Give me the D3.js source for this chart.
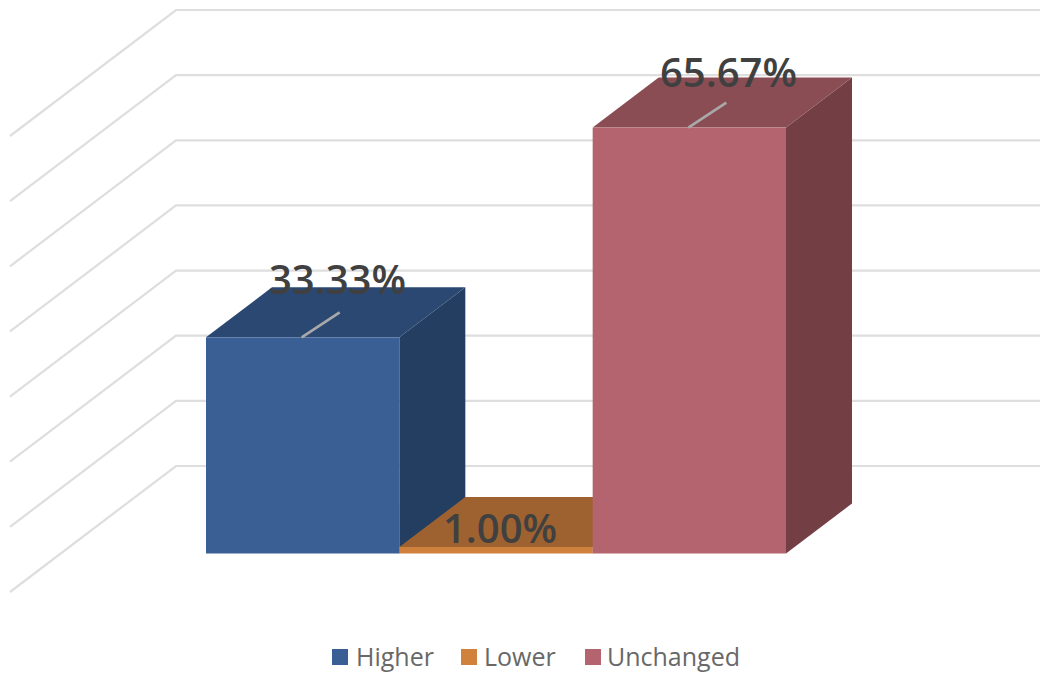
<!DOCTYPE html>
<html>
<head>
<meta charset="utf-8">
<script src="https://cdn.jsdelivr.net/npm/d3@7/dist/d3.min.js"></script>
<style>
html,body{margin:0;padding:0;background:#fff;}
svg{display:block;}
</style>
</head>
<body>
<svg id="chart" width="1040" height="673"></svg>
<script>
const categories = ["Higher", "Lower", "Unchanged"];
const values = [33.33, 1.00, 65.67];
const valueLabels = ["33.33%", "1.00%", "65.67%"];
const gridValues = [0, 10, 20, 30, 40, 50, 60, 70];
const frontColors = ["#3A5F95", "#D0823D", "#B4646E"];
const topColors = ["#2B4872", "#9E6230", "#8A4D54"];
const sideColors = ["#233E60", "#9E6230", "#733F45"];

const svg = d3.select("#chart");

// Value-to-height scale on the front plane of the bars
const y = d3.scaleLinear().domain([0, 70]).range([553.5, 99.5]);
const x = d3.scaleBand().domain(categories).range([206, 786]).padding(0);

// Oblique projection offsets
const barDepth = { dx: 66, dy: -50 };
const floorDepth = { dx: 166, dy: -126 };
const wallBackBaseY = 466;
const wallLeft = 176, wallRight = 1040, floorFrontX = 10;
const wallY = d3.scaleLinear().domain([0, 70]).range([wallBackBaseY, 10]);

// Gridlines: along the back wall, then down the side wall
const line = d3.line();
svg.append("g").selectAll("path").data(gridValues).join("path")
  .attr("d", v => line([
    [floorFrontX, wallY(v) - floorDepth.dy],
    [wallLeft, wallY(v)],
    [wallRight, wallY(v)]
  ]))
  .attr("fill", "none")
  .attr("stroke", "#DEDEDE")
  .attr("stroke-width", 2.2);

const bars = categories.map((c, i) => ({
  c, i, v: values[i], x0: x(c), x1: x(c) + x.bandwidth(), top: y(values[i]), base: y(0)
}));

const g = svg.append("g");
bars.forEach(b => {
  const { dx, dy } = barDepth;
  // side face
  g.append("path")
    .attr("d", line([[b.x1, b.top], [b.x1 + dx, b.top + dy], [b.x1 + dx, b.base + dy], [b.x1, b.base]]) + "Z")
    .attr("fill", sideColors[b.i]);
  // top face
  g.append("path")
    .attr("d", line([[b.x0, b.top], [b.x0 + dx, b.top + dy], [b.x1 + dx, b.top + dy], [b.x1, b.top]]) + "Z")
    .attr("fill", topColors[b.i]);
  // front face
  g.append("rect")
    .attr("x", b.x0).attr("y", b.top)
    .attr("width", x.bandwidth()).attr("height", b.base - b.top)
    .attr("fill", frontColors[b.i]);
});

// Leader lines from the front edge of the tall bars' tops
const leaderIdx = [0, 2];
svg.append("g").selectAll("line").data(leaderIdx).join("line")
  .attr("x1", i => bars[i].x0 + x.bandwidth() / 2 - 1)
  .attr("y1", i => bars[i].top)
  .attr("x2", i => bars[i].x0 + x.bandwidth() / 2 + 37)
  .attr("y2", i => bars[i].top - 25)
  .attr("stroke", "#A9A9A9")
  .attr("stroke-width", 2.6);

// Value labels
const labelPos = [[337.5, 294], [500, 543], [728.5, 87]];
svg.append("g").selectAll("text").data(valueLabels).join("text")
  .attr("x", (d, i) => labelPos[i][0])
  .attr("y", (d, i) => labelPos[i][1])
  .attr("text-anchor", "middle")
  .attr("font-family", "'Open Sans', sans-serif")
  .attr("font-weight", 600)
  .attr("font-size", 40)
  .attr("fill", "#404040")
  .text(d => d);

// Legend
const legendSwatchX = [332, 461, 585];
const legendTextX = [356, 484, 607];
const legend = svg.append("g");
categories.forEach((c, i) => {
  legend.append("rect")
    .attr("x", legendSwatchX[i]).attr("y", 649)
    .attr("width", 16).attr("height", 16)
    .attr("fill", frontColors[i]);
  legend.append("text")
    .attr("x", legendTextX[i]).attr("y", 666)
    .attr("font-family", "'Open Sans', sans-serif")
    .attr("font-size", 25)
    .attr("fill", "#686868")
    .text(c);
});
</script>
</body>
</html>
